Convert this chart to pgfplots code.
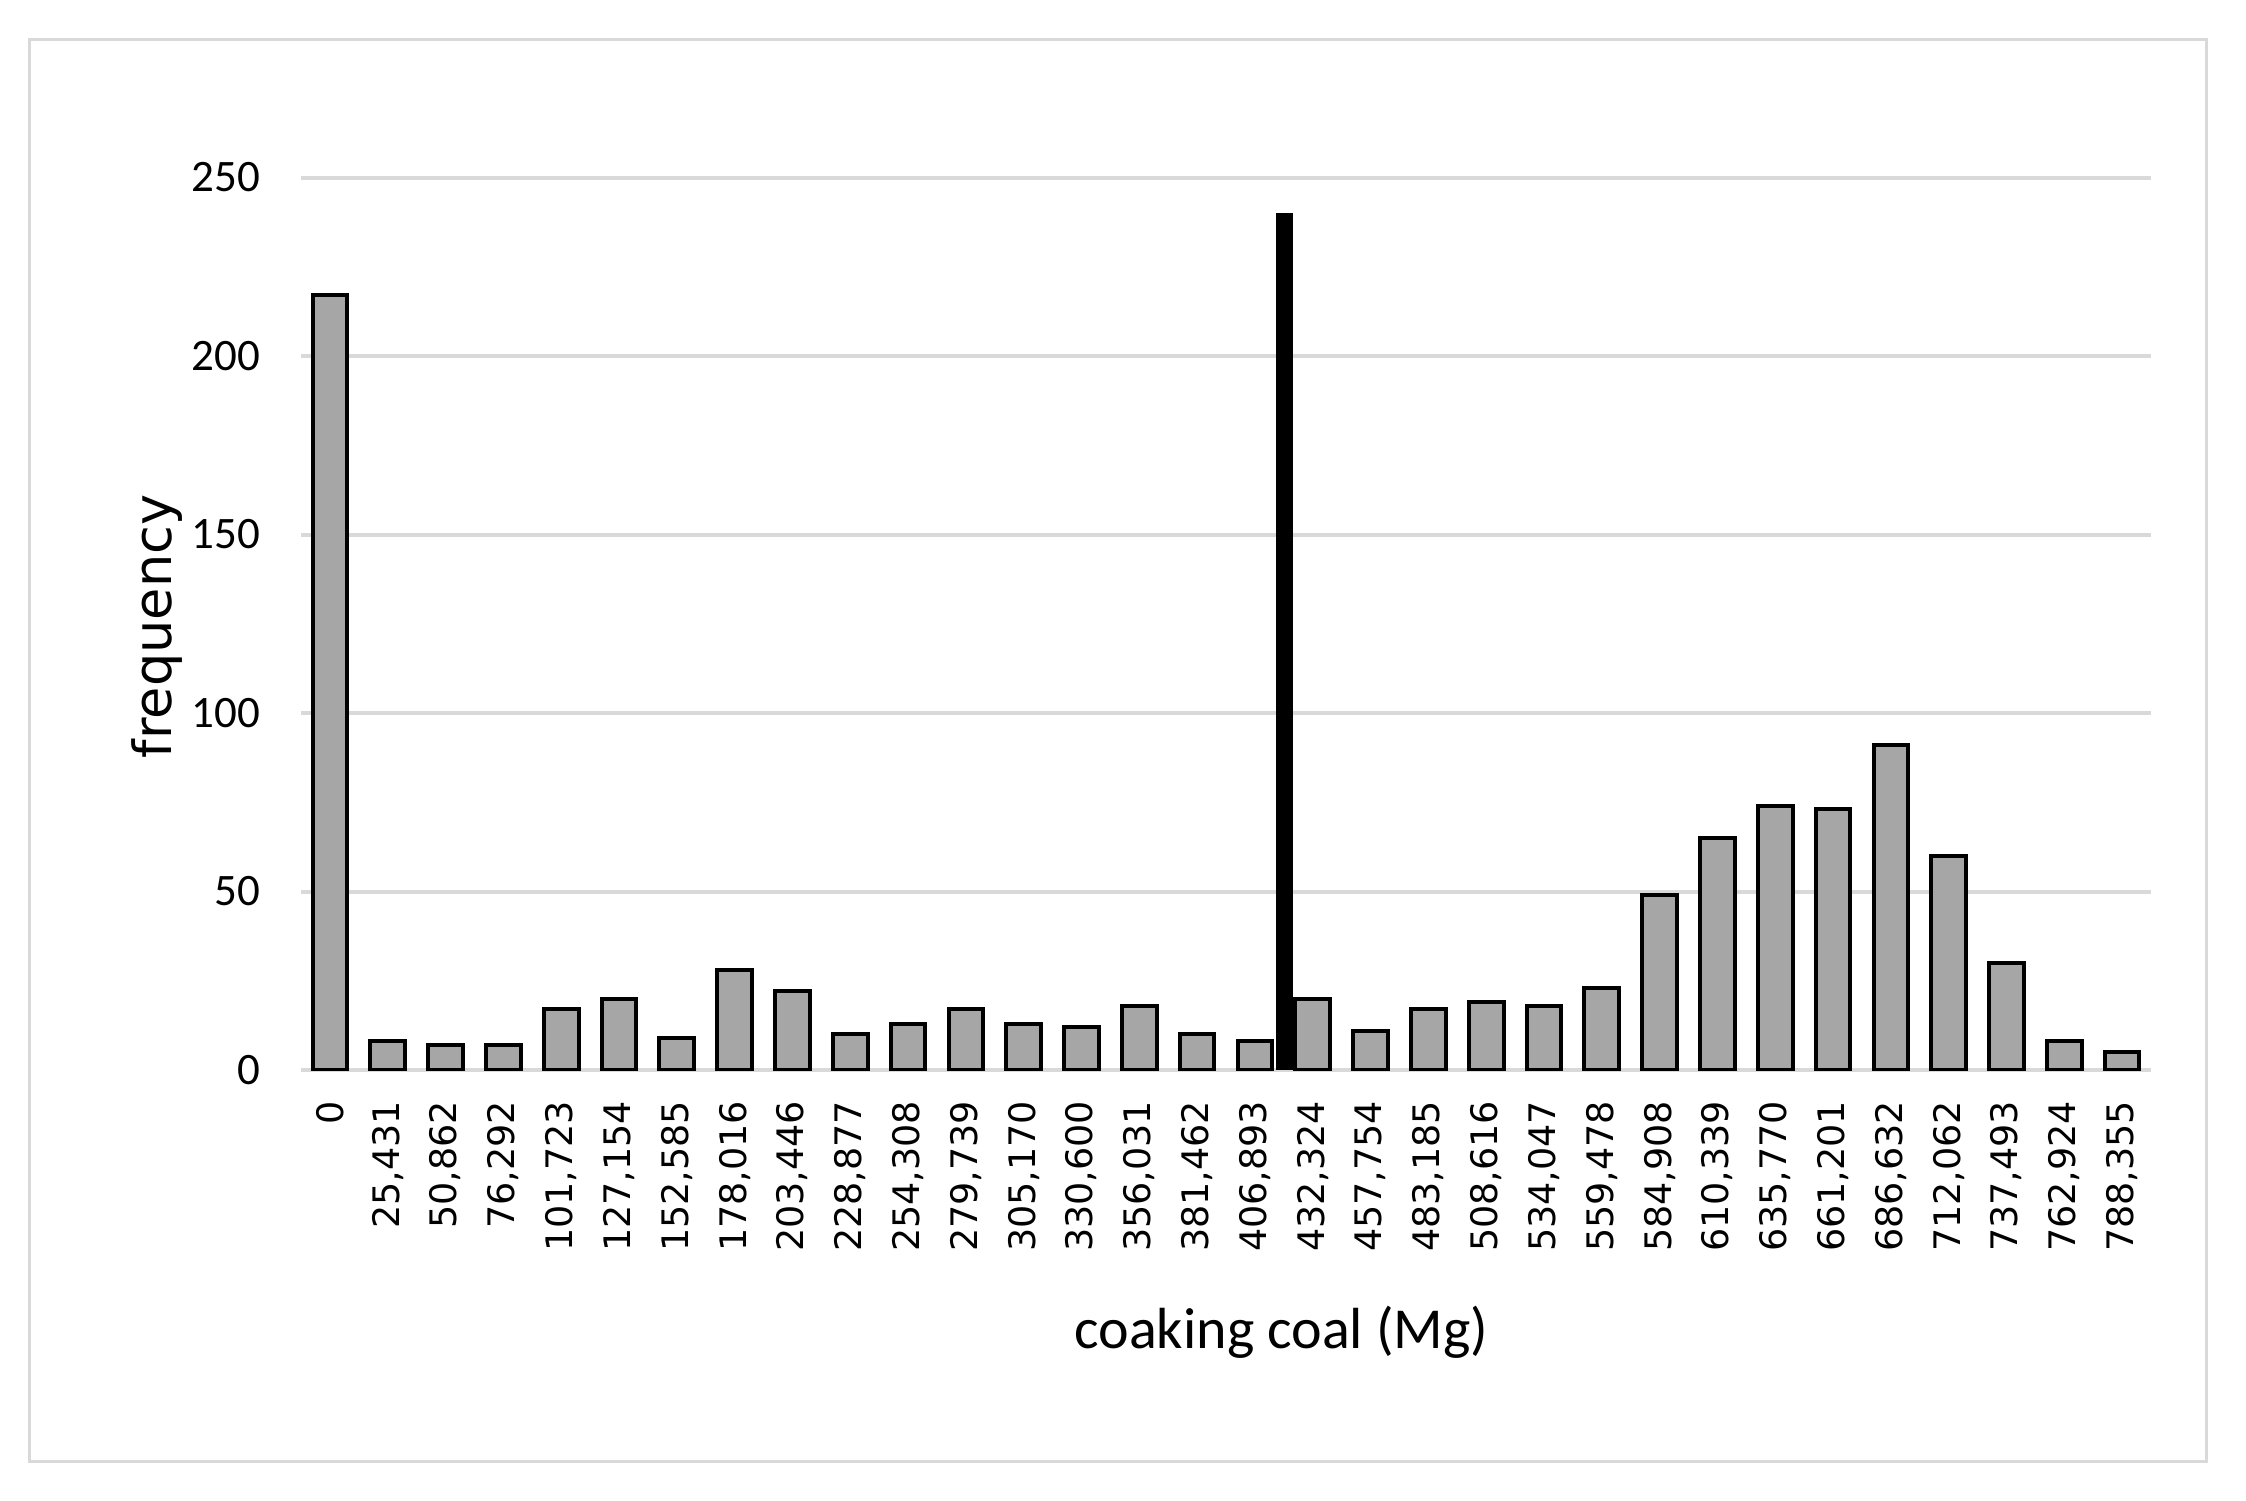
\documentclass[border=0pt]{standalone}
\usepackage{fontspec}
\setmainfont{Carlito}
\newfontfamily\dejavu{DejaVu Sans}
\usepackage{pgfplots}
\pgfplotsset{compat=1.18}
\definecolor{barfill}{HTML}{A6A6A6}
\definecolor{gridc}{HTML}{D9D9D9}
\definecolor{framec}{HTML}{D9D9D9}
\begin{document}
\begin{tikzpicture}[x=1pt,y=1pt]
\path[use as bounding box] (0,0) rectangle (449.2,300);
\draw[framec, line width=0.6pt] (5.8,7.8) rectangle (441.2,292);
\begin{axis}[
  at={(60.2pt,86pt)}, anchor=south west,
  scale only axis, width=370pt, height=178.5pt,
  xmin=-0.5, xmax=31.5, ymin=0, ymax=250,
  axis line style={draw=none},
  ytick={0,50,...,250},
  ymajorgrids, grid style={gridc, line width=0.8pt},
  major tick length=0pt,
  xtick={0,...,31},
  xticklabels={0,{25,431},{50,862},{76,292},{101,723},{127,154},{152,585},{178,016},{203,446},{228,877},{254,308},{279,739},{305,170},{330,600},{356,031},{381,462},{406,893},{432,324},{457,754},{483,185},{508,616},{534,047},{559,478},{584,908},{610,339},{635,770},{661,201},{686,632},{712,062},{737,493},{762,924},{788,355}},
  xticklabel style={rotate=90, anchor=east, inner sep=0pt, font=\dejavu\fontsize{7.3}{7.3}\selectfont},
  xticklabel shift=6pt,
  yticklabel style={inner sep=0pt, font=\fontsize{9}{9}\selectfont},
  yticklabel shift=8pt,
  /pgf/number format/assume math mode=true,
  xlabel={coaking coal (Mg)}, ylabel={frequency},
  xlabel style={at={(axis description cs:0.530,-0.2936)}, anchor=center, font=\fontsize{11.6}{11.6}\selectfont},
  ylabel style={at={(axis description cs:-0.0776,0.497)}, anchor=center, font=\dejavu\fontsize{10.5}{10.5}\selectfont},
]
\addplot[ybar, bar width=0.6, fill=barfill, draw=black, line width=0.8pt] coordinates {
(0,217) (1,8) (2,7) (3,7) (4,17) (5,20) (6,9) (7,28) (8,22) (9,10)
(10,13) (11,17) (12,13) (13,12) (14,18) (15,10) (16,8) (17,20) (18,11) (19,17)
(20,19) (21,18) (22,23) (23,49) (24,65) (25,74) (26,73) (27,91) (28,60) (29,30)
(30,8) (31,5)};
\addplot[black, line width=3.4pt, line cap=butt] coordinates {(16.52,0) (16.52,240)};
\end{axis}
\end{tikzpicture}
\end{document}
